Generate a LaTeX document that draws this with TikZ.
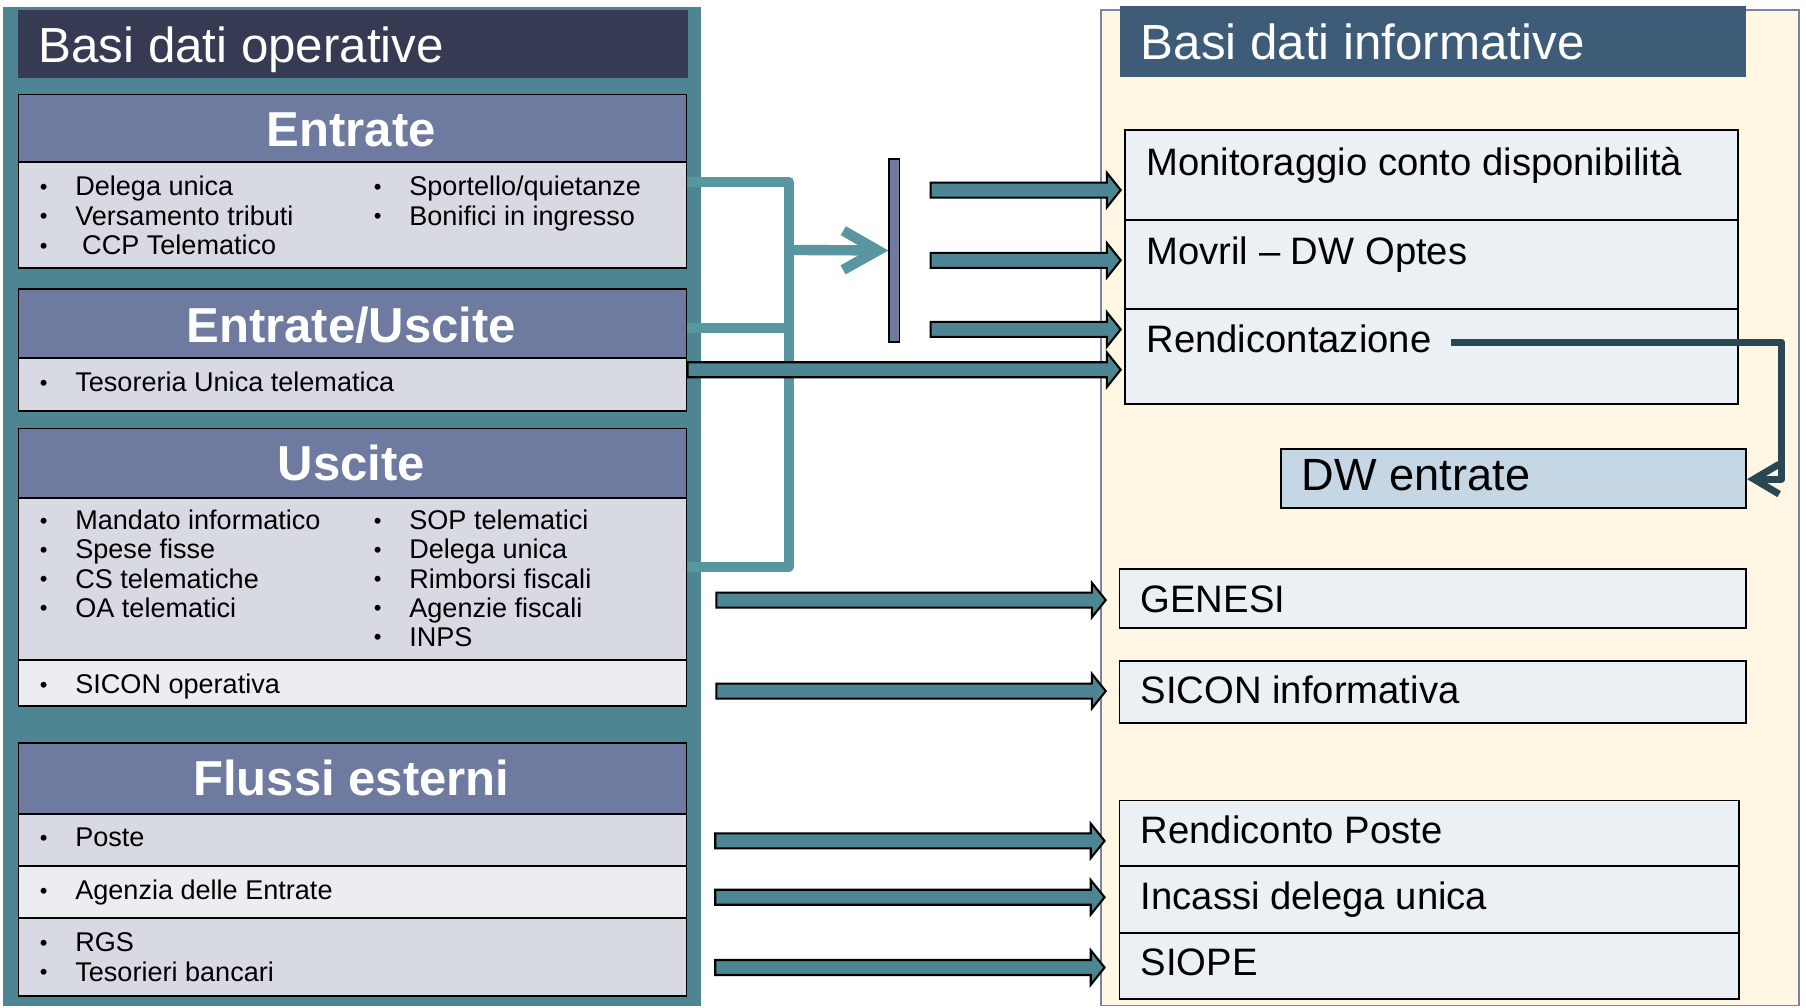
\documentclass[tikz,border=0pt]{standalone}
\usepackage{fontspec}
\setmainfont{Liberation Sans}
\usetikzlibrary{arrows.meta,calc,fit}
\definecolor{navy}{HTML}{363A52}
\definecolor{panelteal}{HTML}{4E8592}
\definecolor{hdrpurple}{HTML}{6F7AA0}
\definecolor{bodygray}{HTML}{D8DAE3}
\definecolor{rowlight}{HTML}{ECEDF1}
\definecolor{cream}{HTML}{FFF7E4}
\definecolor{slate}{HTML}{3E5B78}
\definecolor{itemfill}{HTML}{EBF0F5}
\definecolor{dwfill}{HTML}{C5D6E4}
\definecolor{conteal}{HTML}{5A96A1}
\definecolor{arrteal}{HTML}{4E8592}
\definecolor{darkcon}{HTML}{2A4853}
\definecolor{rborder}{HTML}{7C82A3}
\newcommand{\bul}{\makebox[16pt][l]{\hspace{0.6pt}\raisebox{0.6pt}{\fontsize{9.5}{10}\selectfont\textbullet}}}
\begin{document}
\begin{tikzpicture}[x=0.5pt,y=-0.5pt,
  box/.style={inner sep=0pt, draw=black, line width=0.8pt},
  plain/.style={inner sep=0pt, draw=none},
  title/.style={anchor=base west, inner sep=0pt, text=white, font=\fontsize{21.4}{24}\selectfont},
  hdrtxt/.style={anchor=base, inner sep=0pt, text=white, font=\bfseries\fontsize{21.3}{24}\selectfont},
  item/.style={anchor=base west, inner sep=0pt, font=\fontsize{11.75}{14}\selectfont},
  ritem/.style={anchor=base west, inner sep=0pt, font=\fontsize{16.6}{20}\selectfont},
  tealc/.style={draw=conteal, line width=4.5pt, line join=round},
  blk/.style={draw=black, line width=0.9pt, fill=arrteal,
    to path={let \p1=(\tikztostart), \p2=(\tikztotarget) in
      (\x1,\y1+3.25pt) -- (\x2-6pt,\y1+3.25pt) -- (\x2-6pt,\y1+7.5pt) -- (\x2,\y1)
      -- (\x2-6pt,\y1-7.5pt) -- (\x2-6pt,\y1-3.25pt) -- (\x1,\y1-3.25pt) -- cycle}}
]
\useasboundingbox (0,0) rectangle (1568,875);
\fill[white] (0,0) rectangle (1568,875);

% ---------------- left panel ----------------
\node[plain, fill=panelteal, fit={(3,6)(609,873)}] (lpanel) {};
\node[plain, fill=navy, fit={(16,9)(597,68)}] (lhead) {};
\node[title] (ltitle) at (33,54) {Basi dati operative};

% Entrate
\node[box, fill=hdrpurple, fit={(16,82)(596,141)}] (enth) {};
\node[box, fill=bodygray, fit={(16,141)(596,233)}] (entb) {};
\node[hdrtxt] (entt) at (305,127) {Entrate};
\foreach \t [count=\i] in {Delega unica, Versamento tributi, {\hspace{3pt}CCP Telematico}}
  \node[item] (ea\i) at (33,{170+25.5*(\i-1)}) {\bul\t};
\foreach \t [count=\i] in {Sportello/quietanze, Bonifici in ingresso}
  \node[item] (eb\i) at (323,{170+25.5*(\i-1)}) {\bul\t};

% Entrate/Uscite
\node[box, fill=hdrpurple, fit={(16,251)(596,311)}] (euh) {};
\node[box, fill=bodygray, fit={(16,311)(596,357)}] (eub) {};
\node[hdrtxt] (eut) at (305,297) {Entrate/Uscite};
\node[item] (eu1) at (33,340) {\bul Tesoreria Unica telematica};

% Uscite
\node[box, fill=hdrpurple, fit={(16,372)(596,432)}] (ush) {};
\node[box, fill=bodygray, fit={(16,432)(596,573)}] (usb) {};
\node[box, fill=rowlight, fit={(16,573)(596,613)}] (uss) {};
\node[hdrtxt] (ust) at (305,417) {Uscite};
\foreach \t [count=\i] in {Mandato informatico, Spese fisse, CS telematiche, OA telematici}
  \node[item] (ua\i) at (33,{460+25.25*(\i-1)}) {\bul\t};
\foreach \t [count=\i] in {SOP telematici, Delega unica, Rimborsi fiscali, Agenzie fiscali, INPS}
  \node[item] (ub\i) at (323,{460+25.25*(\i-1)}) {\bul\t};
\node[item] (us1) at (33,602) {\bul SICON operativa};

% Flussi esterni
\node[box, fill=hdrpurple, fit={(16,645)(596,707)}] (flh) {};
\node[box, fill=bodygray, fit={(16,707)(596,752)}] (flp) {};
\node[box, fill=rowlight, fit={(16,752)(596,797)}] (fla) {};
\node[box, fill=bodygray, fit={(16,797)(596,865)}] (flr) {};
\node[hdrtxt] (flt) at (305,691) {Flussi esterni};
\node[item] (f1) at (33,735) {\bul Poste};
\node[item] (f2) at (33,781) {\bul Agenzia delle Entrate};
\node[item] (f3) at (33,826) {\bul RGS};
\node[item] (f4) at (33,852) {\bul Tesorieri bancari};

% ---------------- right panel ----------------
\node[plain, fill=cream, draw=rborder, line width=0.8pt, fit={(956,9)(1562,873)}] (rpanel) {};
\node[plain, fill=slate, fit={(972,5)(1516,67)}] (rhead) {};
\node[title] (rtitle) at (990,52) {Basi dati informative};

\node[box, fill=itemfill, fit={(977,113)(1509,191)}] (mon) {};
\node[box, fill=itemfill, fit={(977,191)(1509,268)}] (mov) {};
\node[box, fill=itemfill, fit={(977,268)(1509,351)}] (ren) {};
\node[ritem] (mont) at (995,152) {Monitoraggio conto disponibilità};
\node[ritem] (movt) at (995,230) {Movril -- DW Optes};
\node[ritem] (rent) at (995,306) {Rendicontazione};

\node[box, fill=dwfill, fit={(1112,390)(1516,441)}] (dw) {};
\node[anchor=base west, inner sep=0pt, font=\fontsize{19.6}{23}\selectfont] (dwt) at (1130,426) {DW entrate};

\node[box, fill=itemfill, fit={(972,494)(1516,545)}] (gen) {};
\node[ritem] (gent) at (990,532) {GENESI};
\node[box, fill=itemfill, fit={(972,574)(1516,628)}] (sic) {};
\node[ritem] (sict) at (990,611) {SICON informativa};

\node[box, fill=itemfill, fit={(972,695)(1510,752)}] (rp) {};
\node[box, fill=itemfill, fit={(972,752)(1510,810)}] (idu) {};
\node[box, fill=itemfill, fit={(972,810)(1510,867)}] (sio) {};
\node[ritem] (rpt) at (990,732) {Rendiconto Poste};
\node[ritem] (idut) at (990,790) {Incassi delega unica};
\node[ritem] (siot) at (990,847) {SIOPE};

% ---------------- connectors ----------------
\coordinate (ja) at (685,158);
\coordinate (jb) at (685,492);
\coordinate (jc) at (685,285);
\coordinate (jd) at (685,217);
\node[box, fill=hdrpurple, fit={(772,138)(781,297)}] (bar) {};

\draw[tealc] (ja -| entb.east) -- (ja) -- (jb) -- (jb -| usb.east);
\draw[tealc] (jc -| euh.east) -- (jc);
\draw[tealc, -{Straight Barb[length=15pt,width=17pt]}] (jd) -- (bar.west);

% block arrows
\coordinate (s1) at (808,165); \coordinate (t1) at (973,165);
\coordinate (s2) at (808,226); \coordinate (t2) at (973,226);
\coordinate (s3) at (808,286); \coordinate (t3) at (973,286);
\coordinate (s4) at (597,321); \coordinate (t4) at (973,321);
\coordinate (s5) at (622,521); \coordinate (t5) at (960,521);
\coordinate (s6) at (622,600); \coordinate (t6) at (960,600);
\coordinate (s7) at (621,730); \coordinate (t7) at (959,730);
\coordinate (s8) at (621,779); \coordinate (t8) at (959,779);
\coordinate (s9) at (621,840); \coordinate (t9) at (959,840);
\foreach \k in {1,...,9} \draw[blk] (s\k) to (t\k);

% Rendicontazione -> DW entrate
\coordinate (r0) at (1260,297);
\coordinate (r1) at (1547,297);
\coordinate (r2) at (1547,416);
\draw[darkcon, line width=3pt, line join=round, -{Straight Barb[length=11pt,width=13pt]}]
  (r0) -- (r1) -- (r2) -- (r2 -| dw.east);
\end{tikzpicture}
\end{document}
